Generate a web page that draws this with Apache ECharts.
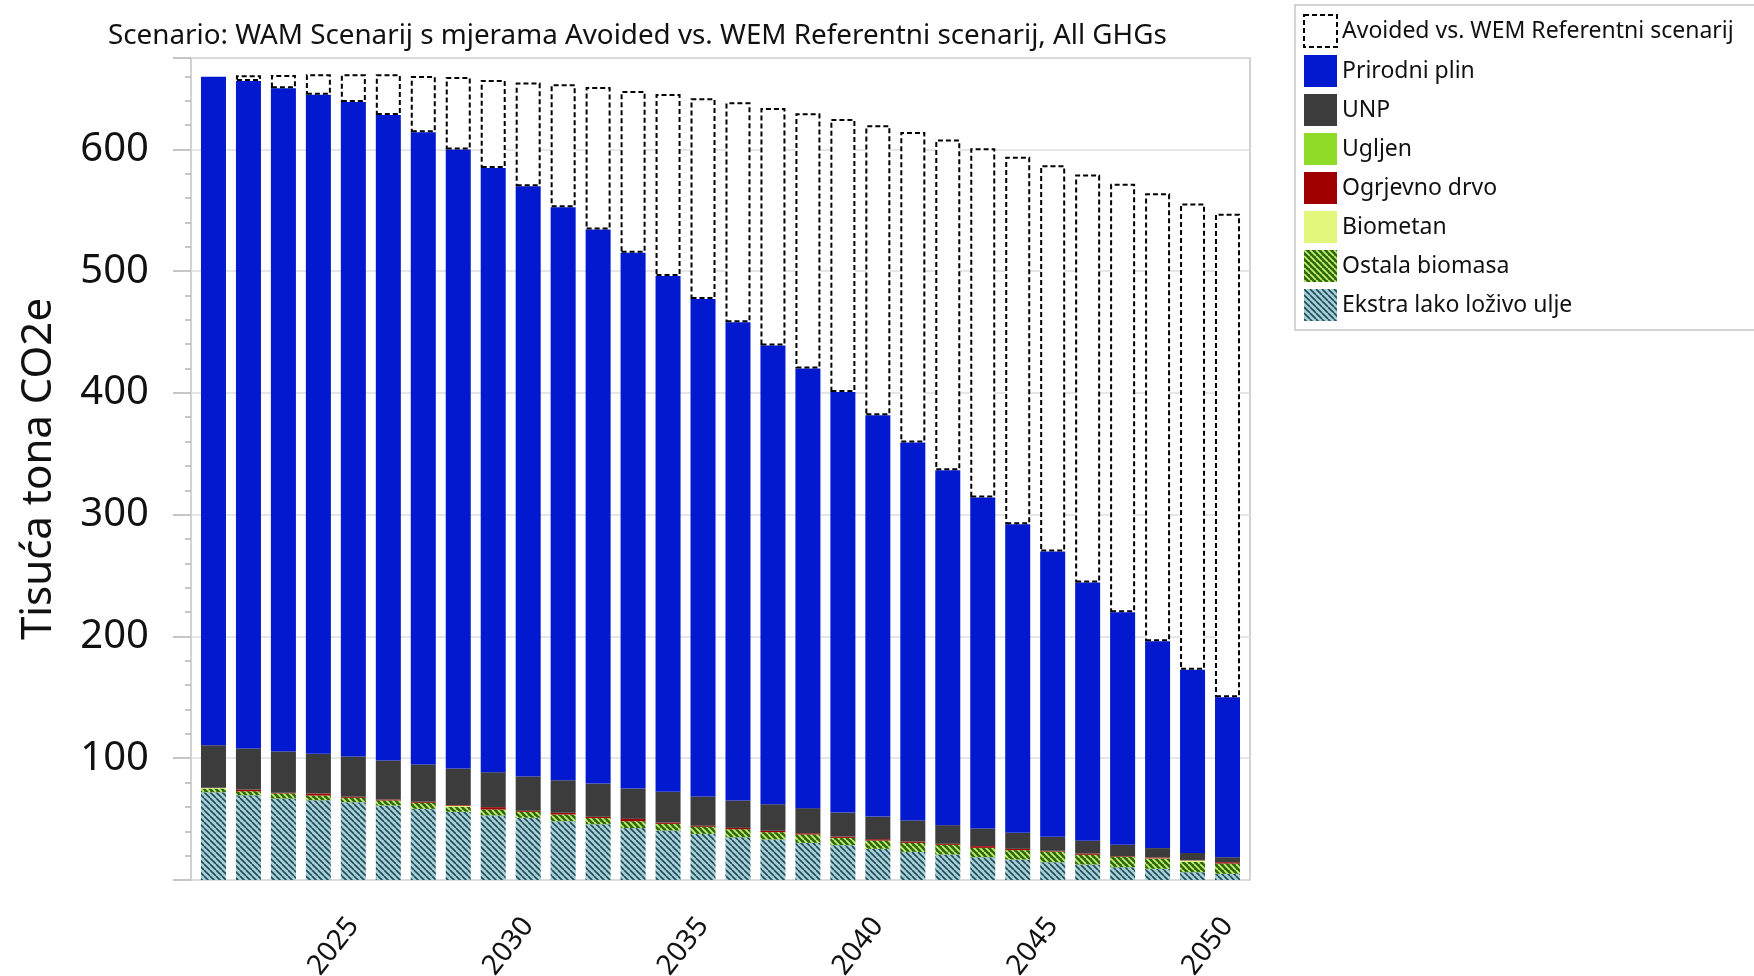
<!DOCTYPE html>
<html>
<head>
<meta charset="utf-8">
<title>WAM vs WEM</title>
<script src="https://cdn.jsdelivr.net/npm/echarts@6.0.0/dist/echarts.min.js"></script>
<style>
  html, body { margin: 0; padding: 0; background: #fff; }
  #chart { width: 1754px; height: 976px; }
</style>
</head>
<body>
<div id="chart"></div>
<script>
// godine
var years = [];
for (var y = 2021; y <= 2050; y++) years.push(String(y));

// tisuca tona CO2e, ocitano sa slike (odozdo prema gore)
var ekstraLako = [72.1, 69.6, 66.9, 65.5, 63.9, 61.2, 58.4, 56.0, 53.0, 51.1, 48.3, 45.8, 42.6, 40.6, 37.9, 35.1, 33.3, 30.5, 28.6, 25.6, 23.1, 20.9, 18.7, 16.8, 14.6, 12.7, 10.5, 9.2, 6.4, 5.1];
var ostalaBiomasa = [3.0, 3.3, 4.2, 3.9, 3.6, 4.1, 5.0, 4.1, 4.9, 4.9, 5.5, 5.0, 5.7, 5.5, 5.8, 6.6, 6.0, 6.9, 6.0, 6.8, 7.4, 8.0, 7.7, 7.7, 8.8, 8.0, 8.5, 8.2, 8.5, 8.4];
var biometan = [0.5, 0, 0, 0, 0, 0, 0, 0.8, 0, 0, 0, 0, 0, 0, 0, 0, 0, 0, 0, 0, 0, 0, 0, 0, 0, 0, 0, 0.3, 1.1, 0];
var ogrjevnoDrvo = [0.2, 1.4, 0.6, 1.6, 0.8, 0.8, 0.8, 0.6, 1.9, 0.8, 1.4, 1.1, 1.9, 1.1, 0.8, 1.1, 1.1, 1.0, 1.1, 1.1, 1.1, 0.8, 1.4, 1.1, 0.6, 1.1, 0.5, 0.8, 0.2, 1.1];
var ugljen = [0, 0, 0, 0, 0, 0, 0, 0, 0, 0, 0, 0, 0, 0, 0, 0, 0, 0, 0, 0, 0, 0, 0, 0, 0, 0, 0, 0, 0, 0];
var unp = [34.9, 33.7, 33.9, 32.6, 33.1, 32.0, 30.6, 30.0, 28.7, 28.2, 26.7, 27.3, 24.9, 25.2, 24.1, 22.5, 21.8, 20.6, 19.7, 18.6, 17.3, 15.3, 14.5, 13.1, 11.5, 10.4, 9.4, 7.7, 6.0, 4.1];
var prirodniPlin = [548.9, 548.2, 544.5, 541.3, 537.5, 530.1, 519.2, 508.3, 496.2, 484.6, 470.5, 454.9, 439.9, 423.6, 408.4, 392.7, 376.8, 361.0, 345.4, 329.5, 310.3, 291.5, 271.7, 253.4, 234.2, 212.1, 191.0, 169.9, 150.5, 131.4];
var avoided = [0, 4.7, 11.0, 16.7, 22.7, 33.4, 46.2, 59.6, 72.3, 85.2, 101.0, 117.1, 132.9, 149.4, 164.9, 180.6, 195.0, 209.6, 224.2, 238.1, 255.1, 271.5, 286.9, 301.9, 317.2, 335.0, 351.9, 367.8, 382.9, 397.1];

var yTicks = [100, 200, 300, 400, 500, 600];

var titleText = 'Scenario: WAM Scenarij s mjerama Avoided vs. WEM Referentni scenarij, All GHGs';
var yName = 'Tisuća tona CO2e';
var FONT = '"Noto Sans", "DejaVu Sans", sans-serif';

// srafura "\" za ispune
function hatch(bg, fg, size, lw) {
  var c = document.createElement('canvas');
  c.width = size;
  c.height = size;
  var ctx = c.getContext('2d');
  ctx.fillStyle = bg;
  ctx.fillRect(0, 0, size, size);
  ctx.strokeStyle = fg;
  ctx.lineWidth = lw;
  ctx.beginPath();
  for (var k = -size; k <= size; k += size) {
    ctx.moveTo(k, 0);
    ctx.lineTo(k + size, size);
  }
  ctx.stroke();
  return c;
}

var avoidedStyle = {
  color: '#ffffff',
  borderColor: '#000000',
  borderWidth: 2,
  borderType: [5, 3]
};

function bar(name, data, itemStyle) {
  return {
    name: name,
    type: 'bar',
    stack: 'total',
    xAxisIndex: 0,
    yAxisIndex: 0,
    barWidth: 25,
    data: data,
    itemStyle: itemStyle,
    emphasis: { disabled: true }
  };
}

var series = [
  bar('Ekstra lako loživo ulje', ekstraLako, { color: { image: hatch('#a8cfd6', '#1d4a58', 6, 1.6), repeat: 'repeat' } }),
  bar('Ostala biomasa', ostalaBiomasa, { color: { image: hatch('#2a680b', '#c6ee6c', 6, 1.8), repeat: 'repeat' } }),
  bar('Biometan', biometan, { color: '#e2f77c' }),
  bar('Ogrjevno drvo', ogrjevnoDrvo, { color: '#a00000' }),
  bar('Ugljen', ugljen, { color: '#8edc28' }),
  bar('UNP', unp, { color: '#3c3c3c' }),
  bar('Prirodni plin', prirodniPlin, { color: '#0319cf' }),
  bar('Avoided vs. WEM Referentni scenarij', avoided.map(function (v) { return v === 0 ? '-' : v; }), avoidedStyle)
];

var legendOrder = series.map(function (s) {
  if (s.name.indexOf('Avoided') === 0) {
    return { name: s.name, itemStyle: avoidedStyle };
  }
  return s.name;
}).reverse();

var fiveYear = function (i, v) { return Number(v) % 5 === 0; };

var option = {
  animation: false,
  backgroundColor: '#ffffff',
  textStyle: { fontFamily: FONT },
  title: {
    text: titleText,
    left: 108,
    top: 22,
    padding: 0,
    textStyle: { fontFamily: FONT, fontSize: 27.8, fontWeight: 'normal', color: '#111' }
  },
  legend: {
    orient: 'vertical',
    left: 1295,
    top: 5,
    padding: [9, 460, 9, 8],
    borderColor: '#c8c8c8',
    borderWidth: 1.5,
    itemWidth: 33,
    itemHeight: 32,
    itemGap: 7,
    icon: 'rect',
    data: legendOrder,
    textStyle: { fontFamily: FONT, fontSize: 23, color: '#111' }
  },
  // grid 0: stupci (malo uvuceni), grid 1: okvir s y osi
  grid: [
    { left: 196, right: 509, top: 58, bottom: 96, show: false, outerBoundsMode: 'none' },
    { left: 191, right: 504, top: 58, bottom: 96, show: true, borderColor: '#c4c4c4', borderWidth: 1.5, outerBoundsMode: 'none' }
  ],
  xAxis: [
    {
      type: 'category',
      gridIndex: 0,
      data: years,
      axisLine: { show: false },
      axisTick: {
        alignWithLabel: true,
        length: 18,
        interval: fiveYear,
        lineStyle: { color: '#b4b4b4', width: 1.5 }
      },
      axisLabel: {
        interval: fiveYear,
        rotate: 52,
        margin: 41,
        fontSize: 28,
        color: '#111',
        fontFamily: FONT
      }
    },
    {
      type: 'category',
      gridIndex: 1,
      data: years,
      show: false
    }
  ],
  yAxis: [
    {
      type: 'value',
      gridIndex: 0,
      min: 0,
      max: 675,
      show: false,
      splitLine: { show: false }
    },
    {
      type: 'value',
      gridIndex: 1,
      min: 0,
      max: 675,
      interval: 100,
      name: yName,
      nameLocation: 'middle',
      nameGap: 131,
      nameTextStyle: { fontFamily: FONT, fontSize: 42, color: '#111' },
      axisLine: { show: false },
      axisTick: { show: true, length: 18, lineStyle: { color: '#b4b4b4', width: 1.5 } },
      minorTick: { show: true, splitNumber: 5, length: 6, lineStyle: { color: '#b4b4b4', width: 1.5 } },
      splitLine: { show: true, lineStyle: { color: '#dedede', width: 1.5 } },
      axisLabel: {
        margin: 42,
        fontSize: 40,
        color: '#111',
        fontFamily: FONT,
        formatter: function (v) { return yTicks.indexOf(v) >= 0 ? String(v) : ''; }
      }
    }
  ],
  series: series
};

var mychart = echarts.init(document.getElementById('chart'));
mychart.setOption(option);
</script>
</body>
</html>
